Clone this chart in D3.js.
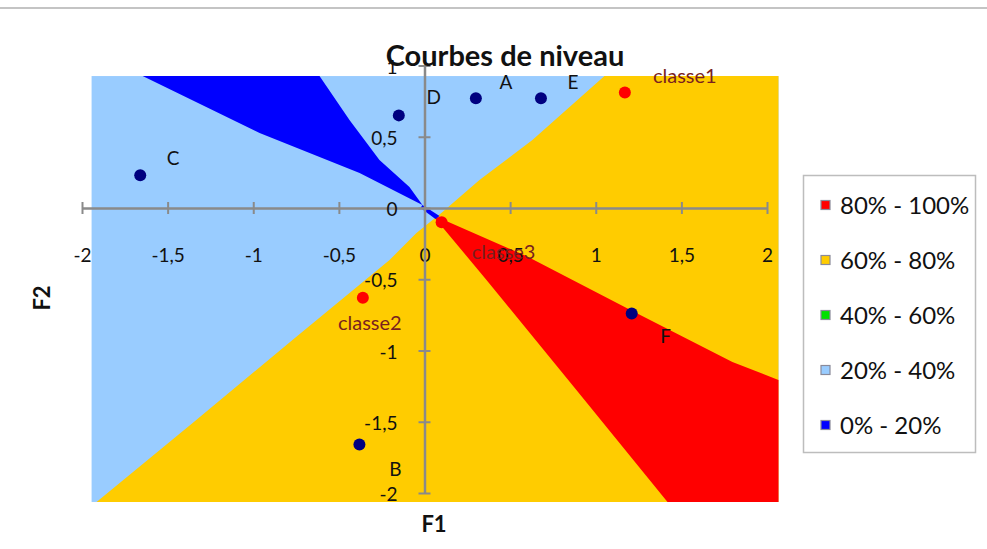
<!DOCTYPE html>
<html><head><meta charset="utf-8">
<script src="https://cdn.jsdelivr.net/npm/d3@7"></script>
<style>
html,body{margin:0;padding:0;background:#fff;}
svg{display:block;font-family:Lato,"Open Sans",sans-serif;}
</style></head>
<body><svg id="c" width="987" height="549"></svg>
<script>
// ---- data ----
const xTicks = [-2, -1.5, -1, -0.5, 0, 0.5, 1, 1.5, 2];
const yTicks = [-2, -1.5, -1, -0.5, 0, 0.5, 1];
const pointNames = ["A", "B", "C", "D", "E", "F"];
const pointX = [0.30, -0.38, -1.66, -0.15, 0.68, 1.21];
const pointY = [0.77, -1.66, 0.23, 0.65, 0.77, -0.74];
const classNames = ["classe1", "classe2", "classe3"];
const classX = [1.17, -0.36, 0.10];
const classY = [0.81, -0.63, -0.10];
const legendLabels = ["80% - 100%", "60% - 80%", "40% - 60%", "20% - 40%", "0% - 20%"];
// contour area extent (data units)
const areaX = [-1.944, 2.067];
const areaY = [-2.063, 0.926];
// boundary between 20-40% and 60-80% zones
const boundaryYellow = [[1.051, 0.926], [0.630, 0.477], [0.321, 0.196], [0.105, -0.028], [-0.047, -0.175],
  [-0.204, -0.365], [-0.771, -0.926], [-1.354, -1.509], [-1.915, -2.063]];
// 80-100% zone
const zoneRed = [[0.047, -0.049], [0.600, -0.340], [1.214, -0.723], [1.798, -1.081], [2.067, -1.207],
  [2.067, -2.063], [1.419, -2.063], [0.887, -1.277], [0.362, -0.505], [0.070, -0.084]];
// 0-20% zone
const zoneBlue = [[-0.012, 0.021], [-0.379, 0.246], [-0.963, 0.526], [-1.646, 0.926], [-0.613, 0.926],
  [-0.438, 0.618], [-0.263, 0.337], [-0.088, 0.147]];
const zoneBlueTail = [[-0.012, 0.021], [0.088, -0.056], [0.064, -0.077], [-0.023, 0.0]];

// ---- styles ----
const zoneColors = ["#FF0000", "#FFCC00", "#00E000", "#99CCFF", "#0000FF"];
const axisColor = "#8a8a8a";
const labelOffsets = {A: [30, -16], B: [36, 25], C: [33, -17], D: [35, -18], E: [32, -16], F: [34, 23],
  classe1: [60, -17], classe2: [7, 25], classe3: [62, 30]};

const svg = d3.select("#c");
const x = d3.scaleLinear().domain([-2, 2]).range([82, 767]);
const y = d3.scaleLinear().domain([-2, 1]).range([493, 65.5]);
const loc = d3.formatLocale({decimal: ",", thousands: " ", grouping: [3], currency: ["", "€"], minus: "-"});
const fmt = loc.format("~g");

// frame line at top
svg.append("line").attr("x1", 0).attr("x2", 987).attr("y1", 8).attr("y2", 8)
  .attr("stroke", "#c4c4c4").attr("stroke-width", 2);

// contour zones
const line = d3.line().x(d => x(d[0])).y(d => y(d[1]));
svg.append("rect").attr("x", x(areaX[0])).attr("y", y(areaY[1]))
  .attr("width", x(areaX[1]) - x(areaX[0])).attr("height", y(areaY[0]) - y(areaY[1]))
  .attr("fill", zoneColors[3]);
const yellowPoly = boundaryYellow.concat([[areaX[1], areaY[0]], [areaX[1], areaY[1]]]);
svg.append("path").attr("d", line(yellowPoly) + "Z").attr("fill", zoneColors[1]);
svg.append("path").attr("d", line(zoneRed) + "Z").attr("fill", zoneColors[0]);
svg.append("path").attr("d", line(zoneBlue) + "Z").attr("fill", zoneColors[4]);
svg.append("path").attr("d", line(zoneBlueTail) + "Z").attr("fill", zoneColors[4]);

// axes (crossing at origin)
const tickFont = 19;
const xAxis = d3.axisBottom(x).tickValues(xTicks).tickSize(0).tickFormat(fmt);
const gx = svg.append("g").attr("transform", `translate(0,${y(0)})`).call(xAxis);
gx.select(".domain").attr("stroke", axisColor).attr("stroke-width", 2.5);
gx.selectAll(".tick text").attr("dy", null).attr("y", 54).attr("fill", "#111").attr("font-size", tickFont)
  .attr("font-family", "Lato, 'Open Sans', sans-serif");
gx.selectAll(".tick").append("line").attr("y1", -6).attr("y2", 6).attr("stroke", axisColor).attr("stroke-width", 2);

const yAxis = d3.axisLeft(y).tickValues(yTicks).tickSize(0).tickFormat(fmt);
const gy = svg.append("g").attr("transform", `translate(${x(0)},0)`).call(yAxis);
gy.select(".domain").attr("stroke", axisColor).attr("stroke-width", 2.5);
gy.selectAll(".tick text").attr("x", -27).attr("dy", "0.4em").attr("fill", "#111").attr("font-size", tickFont)
  .attr("font-family", "Lato, 'Open Sans', sans-serif");
gy.selectAll(".tick").append("line").attr("x1", -6).attr("x2", 6).attr("stroke", axisColor).attr("stroke-width", 2);

// points
const pts = pointNames.map((n, i) => ({n, x: pointX[i], y: pointY[i]}));
const cls = classNames.map((n, i) => ({n, x: classX[i], y: classY[i]}));
svg.selectAll("circle.p").data(pts).join("circle").attr("class", "p")
  .attr("cx", d => x(d.x)).attr("cy", d => y(d.y)).attr("r", 6).attr("fill", "#000080");
svg.selectAll("circle.k").data(cls).join("circle").attr("class", "k")
  .attr("cx", d => x(d.x)).attr("cy", d => y(d.y)).attr("r", 6).attr("fill", "#FF0000");
svg.selectAll("text.pl").data(pts).join("text").attr("class", "pl")
  .attr("x", d => x(d.x) + labelOffsets[d.n][0]).attr("y", d => y(d.y) + labelOffsets[d.n][1])
  .attr("dy", "0.35em").attr("text-anchor", "middle").attr("font-size", 19).attr("fill", "#111").text(d => d.n);
svg.selectAll("text.kl").data(cls).join("text").attr("class", "kl")
  .attr("x", d => x(d.x) + labelOffsets[d.n][0]).attr("y", d => y(d.y) + labelOffsets[d.n][1])
  .attr("dy", "0.35em").attr("text-anchor", "middle").attr("font-size", 20).attr("fill", "#7a1f1f").text(d => d.n);

// titles
svg.append("text").attr("x", 505).attr("y", 66).attr("text-anchor", "middle")
  .attr("font-size", 29).attr("font-weight", "bold").attr("fill", "#111").text("Courbes de niveau");
svg.append("text").attr("x", 434).attr("y", 532).attr("text-anchor", "middle")
  .attr("font-size", 22).attr("font-weight", "bold").attr("fill", "#111").text("F1");
svg.append("text").attr("transform", "translate(50,298) rotate(-90)").attr("text-anchor", "middle")
  .attr("font-size", 22).attr("font-weight", "bold").attr("fill", "#111").text("F2");

// legend
const lg = svg.append("g");
lg.append("rect").attr("x", 803.5).attr("y", 175.5).attr("width", 172).attr("height", 277)
  .attr("fill", "#fff").attr("stroke", "#bdbdbd").attr("stroke-width", 1.5);
const li = lg.selectAll("g.li").data(legendLabels).join("g").attr("class", "li")
  .attr("transform", (d, i) => `translate(0,${205 + i * 55})`);
li.append("rect").attr("x", 821).attr("y", -4.5).attr("width", 9).attr("height", 9)
  .attr("fill", (d, i) => zoneColors[i]).attr("stroke", "#8a8a9a").attr("stroke-width", 1.2);
li.append("text").attr("x", 840).attr("dy", "0.36em").attr("font-size", 24).attr("fill", "#111").text(d => d);
</script></body></html>
